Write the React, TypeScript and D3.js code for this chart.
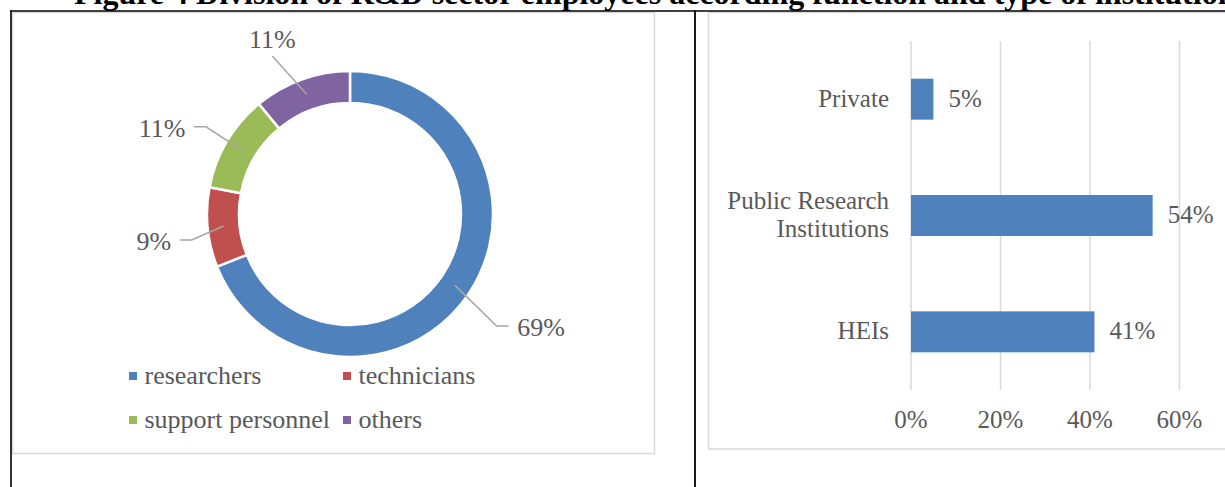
import React from "react";
import * as d3 from "d3";

// ---- data ----
const staffCategories = ["researchers", "technicians", "support personnel", "others"];
const staffShares = [69, 9, 11, 11];
const institutions = ["Private", "Public Research\nInstitutions", "HEIs"];
const institutionShares = [5, 54, 41];
const xTicks = [0, 20, 40, 60];
const titleText =
  "Figure 4 Division of R&D sector employees according function and type of institution";

// ---- styles / layout ----
const pieColors = ["#4F81BD", "#C0504D", "#9BBB59", "#8064A2"];
const barColor = "#4F81BD";
const textColor = "#595959";
const gridColor = "#D9D9D9";
const leaderColor = "#A6A6A6";
const font = "'Liberation Serif', 'Times New Roman', serif";
// label placement (angle nudge in degrees, radius of elbow) per slice
const labelNudge = [3.2, -3.9, 0.6, -6.4];
const labelRadius = [184.6, 160.4, 168.4, 176.1];

export default function App() {
  const W = 1225;
  const H = 487;

  // donut
  const cx = 350;
  const cy = 214;
  const rOuter = 143;
  const rInner = 111;
  const pie = d3.pie<number>().sort(null).value((d) => d)(staffShares);
  const arc = d3.arc<d3.PieArcDatum<number>>().innerRadius(rInner).outerRadius(rOuter);

  // bar chart
  const x = d3.scaleLinear().domain([0, 60]).range([911, 1179.5]);
  const y = d3
    .scaleBand<string>()
    .domain(institutions)
    .range([41, 390])
    .paddingInner(0.648)
    .paddingOuter(0.324);

  const legendCols = [129, 343];
  const legendRows = [376, 420];

  return (
    <div style={{ position: "absolute", left: 0, top: 0, width: W, height: H, background: "#fff" }}>
      <svg width={W} height={H} viewBox={`0 0 ${W} ${H}`} style={{ display: "block" }}>
        <rect x={0} y={0} width={W} height={H} fill="#fff" />
        {/* title (cut off at top) */}
        <text
          x={74}
          y={3.5}
          fontFamily={font}
          fontWeight="bold"
          fontSize={32}
          fill="#000"
        >
          {titleText}
        </text>

        {/* chart frames */}
        <rect x={12.5} y={12.5} width={642} height={441} fill="none" stroke={gridColor} strokeWidth={1.5} />
        <rect x={708.5} y={12.5} width={600} height={436.5} fill="none" stroke={gridColor} strokeWidth={1.5} />

        {/* table lines */}
        <line x1={10} x2={W} y1={11} y2={11} stroke="#000" strokeWidth={1.6} />
        <line x1={11} x2={11} y1={10.2} y2={H} stroke="#000" strokeWidth={1.6} />
        <line x1={695} x2={695} y1={10.2} y2={H} stroke="#000" strokeWidth={1.8} />

        {/* donut */}
        <g transform={`translate(${cx},${cy})`}>
          {pie.map((p, i) => (
            <path key={i} d={arc(p) || ""} fill={pieColors[i]} stroke="#fff" strokeWidth={2.5} />
          ))}
          {pie.map((p, i) => {
            const [sx, sy] = arc.centroid(p);
            const mid = (p.startAngle + p.endAngle) / 2 + (labelNudge[i] * Math.PI) / 180;
            const r = labelRadius[i];
            const ex = r * Math.sin(mid);
            const ey = -r * Math.cos(mid);
            const isTop = Math.cos(mid) > 0.85;
            const label = `${staffShares[i]}%`;
            if (isTop) {
              return (
                <g key={i}>
                  <polyline
                    points={`${sx},${sy} ${ex},${ey}`}
                    fill="none"
                    stroke={leaderColor}
                    strokeWidth={1.5}
                  />
                  <text
                    x={ex}
                    y={ey - 8}
                    textAnchor="middle"
                    fontFamily={font}
                    fontSize={26}
                    fill={textColor}
                  >
                    {label}
                  </text>
                </g>
              );
            }
            const dir = Math.sin(mid) >= 0 ? 1 : -1;
            const tx = ex + dir * 12;
            return (
              <g key={i}>
                <polyline
                  points={`${sx},${sy} ${ex},${ey} ${tx},${ey}`}
                  fill="none"
                  stroke={leaderColor}
                  strokeWidth={1.5}
                />
                <text
                  x={tx + dir * 8.5}
                  y={ey + 10}
                  textAnchor={dir > 0 ? "start" : "end"}
                  fontFamily={font}
                  fontSize={26}
                  fill={textColor}
                >
                  {label}
                </text>
              </g>
            );
          })}
        </g>

        {/* legend */}
        {staffCategories.map((c, i) => {
          const lx = legendCols[i % 2];
          const ly = legendRows[Math.floor(i / 2)];
          return (
            <g key={c}>
              <rect x={lx} y={ly - 4} width={8} height={8} fill={pieColors[i]} />
              <text x={lx + 15.5} y={ly + 8} fontFamily={font} fontSize={26} fill={textColor}>
                {c}
              </text>
            </g>
          );
        })}

        {/* bar chart gridlines */}
        {xTicks.map((t) => (
          <line
            key={t}
            x1={x(t)}
            x2={x(t)}
            y1={y.range()[0]}
            y2={y.range()[1]}
            stroke={gridColor}
            strokeWidth={1.5}
          />
        ))}
        {xTicks.map((t) => (
          <text
            key={t}
            x={x(t)}
            y={427.5}
            textAnchor="middle"
            fontFamily={font}
            fontSize={25}
            fill={textColor}
          >
            {`${t}%`}
          </text>
        ))}

        {/* bars */}
        {institutions.map((c, i) => {
          const by = y(c) || 0;
          const bh = y.bandwidth();
          const center = by + bh / 2;
          const lines = c.split("\n");
          return (
            <g key={c}>
              <rect x={x(0)} y={by} width={x(institutionShares[i]) - x(0)} height={bh} fill={barColor} />
              <text
                x={x(institutionShares[i]) + 15}
                y={center + 7.5}
                fontFamily={font}
                fontSize={25}
                fill={textColor}
              >
                {`${institutionShares[i]}%`}
              </text>
              <text textAnchor="end" fontFamily={font} fontSize={25} fill={textColor}>
                {lines.map((ln, k) => (
                  <tspan key={k} x={889} y={center + 7.5 + (k - (lines.length - 1) / 2) * 28}>
                    {ln}
                  </tspan>
                ))}
              </text>
            </g>
          );
        })}
      </svg>
    </div>
  );
}
